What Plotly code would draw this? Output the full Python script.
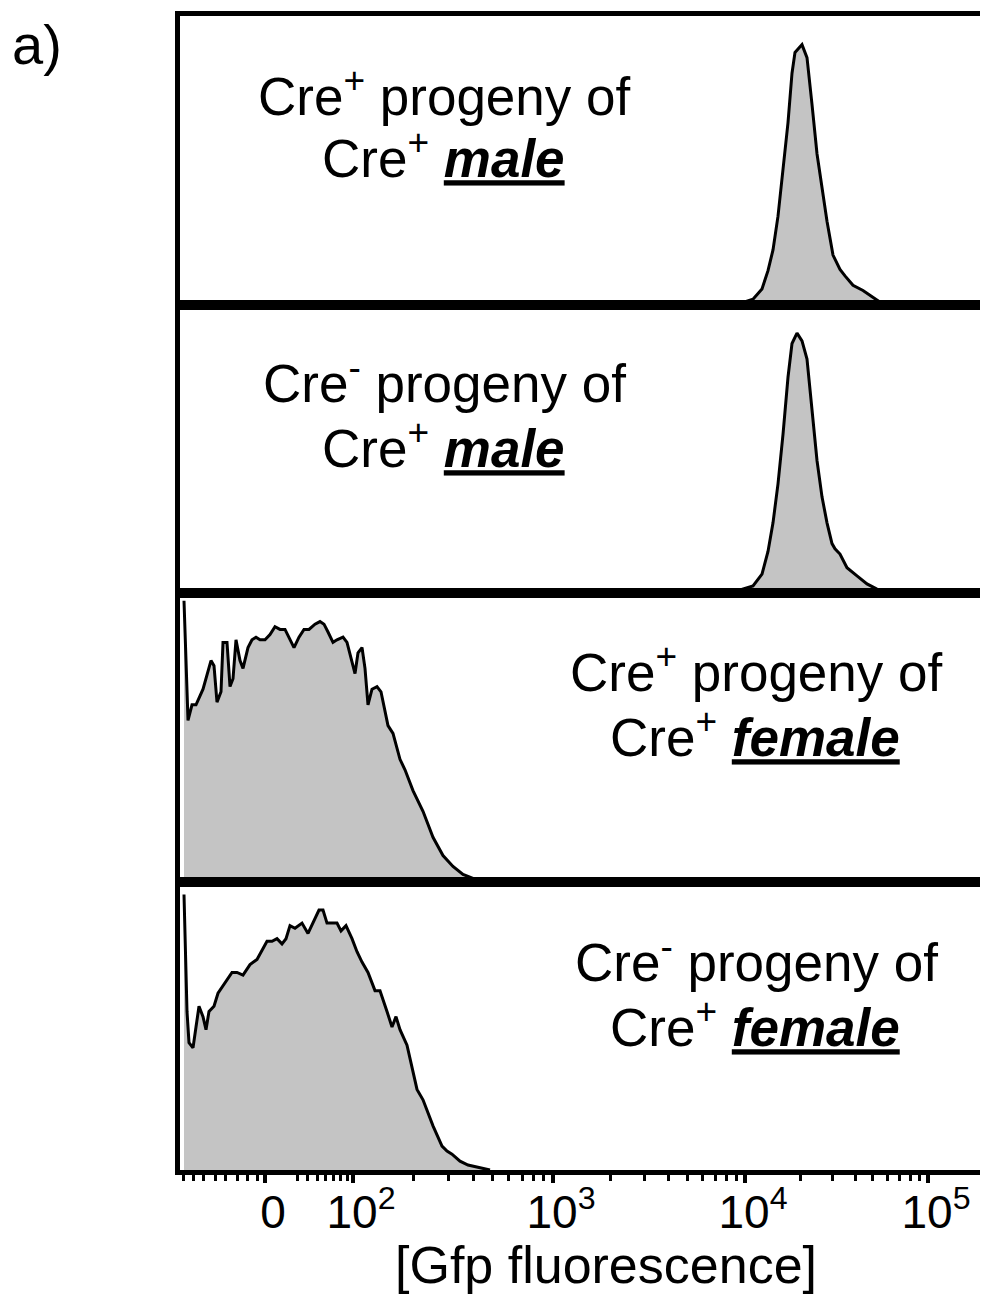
import numpy as np
import plotly.graph_objects as go
from plotly.subplots import make_subplots

# ---------------- data (x: display channel, y: % of mode) ----------------
x_male_pos = [546, 559, 572, 581, 587, 592, 597, 602, 607, 611, 614, 621, 626, 631, 636,
              641, 646, 652, 659, 664, 672, 682, 692, 701, 712]
y_male_pos = [0, 0.4, 2, 6, 13, 21, 34, 51, 70, 89, 97, 100, 95, 77, 58,
              45, 32, 19, 13.5, 11, 7.4, 5.4, 2.7, 0.4, 0]

x_male_neg = [541, 559, 572, 581, 587, 592, 597, 602, 607, 611, 616, 621, 626, 631, 636,
              641, 646, 651, 654, 659, 666, 676, 686, 696, 706]
y_male_neg = [0, 1.2, 2.7, 7.3, 16, 27, 42, 61, 83, 96, 100, 97, 90, 70, 51,
              37, 27, 19, 17, 15, 9.7, 6.6, 3.5, 1.5, 0]

x_female_pos = [3, 7, 11, 15, 22, 30, 33, 36, 40, 42, 46, 49, 52, 55, 59, 62, 67, 71, 75, 79,
                84, 89, 94, 99, 104, 109, 113, 118, 123, 128, 134, 139, 143, 147, 152, 156,
                162, 166, 171, 174, 177, 181, 184, 187, 191, 196, 200, 204, 207, 212, 219,
                224, 232, 242, 252, 262, 272, 282, 292, 302, 309]
y_female_pos = [108, 62, 68, 68, 74, 85, 83, 69, 73, 92, 92, 75, 78, 93, 85, 82, 90, 93, 94, 93,
                93, 95, 98, 97, 97, 93, 90, 94, 97, 97, 99, 100, 99, 96, 92, 93,
                94, 92, 85, 80, 88, 90, 82, 68, 74, 75, 73, 65, 60, 57, 47,
                43, 35, 27, 17, 10, 5.8, 2.7, 1.2, 0.4, 0]

x_female_neg = [3, 6, 8, 12, 15, 18, 22, 25, 28, 33, 37, 42, 51, 56, 62, 69, 76, 86, 91, 96,
                101, 105, 109, 114, 121, 127, 132, 138, 142, 146, 151, 156, 160, 165, 171,
                176, 181, 187, 194, 199, 206, 211, 215, 219, 226, 236, 242, 252, 261, 266,
                271, 279, 287, 296, 309]
y_female_neg = [106, 61, 49, 47, 55, 63, 59, 54, 61, 63, 68, 71, 76, 76, 75, 79, 81, 88, 88, 89,
                87, 89, 94, 93, 95, 91, 95, 100, 100, 95, 95, 95, 92, 94, 89,
                84, 80, 76, 69, 69, 61, 55, 59, 54, 48, 31, 27, 17, 9.2, 7.3,
                6.1, 3.4, 1.9, 1.1, 0]

panel_line1 = ["Cre<sup>+</sup> progeny of", "Cre<sup>-</sup> progeny of",
               "Cre<sup>+</sup> progeny of", "Cre<sup>-</sup> progeny of"]
panel_line2 = ["Cre<sup>+</sup> <b><i><u>male</u></i></b>", "Cre<sup>+</sup> <b><i><u>male</u></i></b>",
               "Cre<sup>+</sup> <b><i><u>female</u></i></b>", "Cre<sup>+</sup> <b><i><u>female</u></i></b>"]

# tick labels at display channel positions
tick_vals = [84, 172, 372, 564, 747]
tick_text = ["0", "10<sup>2</sup>", "10<sup>3</sup>", "10<sup>4</sup>", "10<sup>5</sup>"]
minor_low = [2, 12, 22, 34, 44, 56, 66, 76, 116, 126, 136, 144, 152, 159, 166]

series = [(x_male_pos, y_male_pos), (x_male_neg, y_male_neg),
          (x_female_pos, y_female_pos), (x_female_neg, y_female_neg)]

# minor ticks in the log decades (2..9 x 10^n)
minor = list(minor_low)
for a, b in zip(tick_vals[1:-1], tick_vals[2:]):
    for m in range(2, 10):
        minor.append(a + (b - a) * np.log10(m))

# the page body has an 8px margin, so the figure is sized to fit the window
OFF = 8
W, H = 988 - OFF, 1295 - OFF
L, R, T, B = 180 - OFF, 0, 16 - OFF, 125
pw, ph = W - L - R, H - T - B

FONT = "Arial, Liberation Sans, sans-serif"

fig = make_subplots(rows=4, cols=1, shared_xaxes=True, vertical_spacing=0)

for i, (xs, ys) in enumerate(series):
    fig.add_trace(go.Scatter(x=xs, y=ys, mode="lines", fill="tozeroy",
                             fillcolor="#c4c4c4",
                             line=dict(color="black", width=3),
                             showlegend=False, hoverinfo="skip"),
                  row=i + 1, col=1)

for i in range(4):
    last = (i == 3)
    fig.update_xaxes(range=[-1, 807], showgrid=False, zeroline=False, automargin=False,
                     showline=True, linecolor="black", linewidth=5, mirror=True,
                     ticks="outside" if last else "", ticklen=8, tickwidth=4, tickcolor="black",
                     tickvals=tick_vals if last else [], ticktext=tick_text if last else [],
                     showticklabels=last,
                     tickfont=dict(family=FONT, size=46, color="black"),
                     ticklabelshift=8, ticklabelstandoff=-10,
                     row=i + 1, col=1)
    fig.update_yaxes(range=[0, 111], showgrid=False, zeroline=False, automargin=False,
                     showline=True, linecolor="black", linewidth=5, mirror=False,
                     ticks="", showticklabels=False, row=i + 1, col=1)

fig.update_xaxes(minor=dict(tickvals=minor, ticks="outside", ticklen=6, tickwidth=3,
                            tickcolor="black", showgrid=False), row=4, col=1)


def px(xp):
    return (xp - OFF - L) / pw


def py(yp):
    return (H - B - (yp - OFF)) / ph


anns = []
line_pos = [((444, 93), (443, 155)), ((444, 379), (443, 444)),
            ((756, 668), (755, 733)), ((756, 958), (755, 1023))]
for i in range(4):
    (x1, y1), (x2, y2) = line_pos[i]
    anns.append(dict(text=panel_line1[i], x=px(x1), y=py(y1), xref="paper", yref="paper",
                     xanchor="center", yanchor="middle", showarrow=False,
                     font=dict(family=FONT, size=53, color="black")))
    anns.append(dict(text=panel_line2[i], x=px(x2), y=py(y2), xref="paper", yref="paper",
                     xanchor="center", yanchor="middle", showarrow=False,
                     font=dict(family=FONT, size=53, color="black")))

anns.append(dict(text="[Gfp fluorescence]", x=px(606), y=py(1265), xref="paper", yref="paper",
                 xanchor="center", yanchor="middle", showarrow=False,
                 font=dict(family=FONT, size=52, color="black")))
anns.append(dict(text="a)", x=px(37), y=py(44), xref="paper", yref="paper",
                 xanchor="center", yanchor="middle", showarrow=False,
                 font=dict(family=FONT, size=56, color="black")))

fig.update_layout(width=W, height=H, margin=dict(l=L, r=R, t=T, b=B, autoexpand=False),
                  plot_bgcolor="white", paper_bgcolor="white",
                  annotations=anns)

fig.write_html("out.html")
